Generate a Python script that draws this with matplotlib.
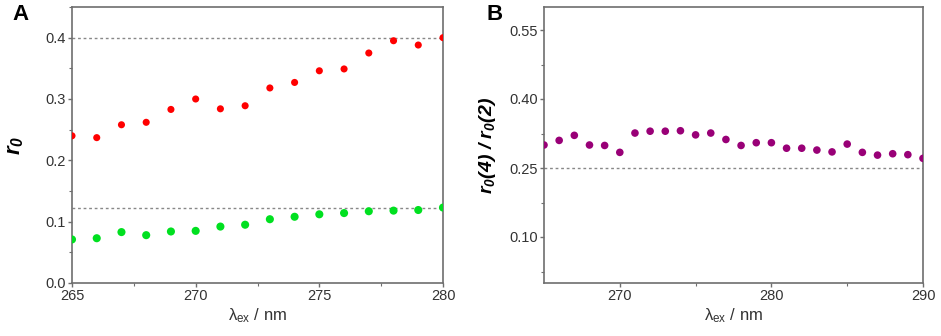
import matplotlib
matplotlib.use("Agg")
import matplotlib.pyplot as plt
from matplotlib.ticker import MultipleLocator, FixedLocator

plt.rcParams['font.family'] = ['Liberation Sans', 'DejaVu Sans']
plt.rcParams['mathtext.fontset'] = 'custom'
plt.rcParams['mathtext.rm'] = 'Liberation Sans'
plt.rcParams['mathtext.it'] = 'Liberation Sans:italic'
plt.rcParams['mathtext.bf'] = 'Liberation Sans:italic:bold'

# Panel A data
wl_a = [265, 266, 267, 268, 269, 270, 271, 272, 273, 274, 275, 276, 277, 278, 279, 280]
r0_red = [0.240, 0.237, 0.258, 0.262, 0.283, 0.300, 0.284, 0.289, 0.318, 0.327,
          0.346, 0.349, 0.375, 0.395, 0.388, 0.400]
r0_green = [0.071, 0.073, 0.083, 0.078, 0.084, 0.085, 0.092, 0.095, 0.104, 0.108,
            0.112, 0.114, 0.117, 0.118, 0.119, 0.123]
ref_lines_a = [0.4, 0.123]

# Panel B data
wl_b = list(range(265, 291))
ratio = [0.300, 0.310, 0.321, 0.300, 0.299, 0.284, 0.326, 0.330, 0.330, 0.331,
         0.322, 0.326, 0.312, 0.299, 0.305, 0.305, 0.293, 0.293, 0.289, 0.285,
         0.302, 0.284, 0.278, 0.281, 0.279, 0.271]
ref_line_b = 0.25

spine_col = '#6e6e6e'
text_col = '#333333'

fig = plt.figure(figsize=(9.41, 3.36), dpi=100)
axA = fig.add_axes([72/941, 1-283/336, (443-72)/941, (283-7)/336])
axB = fig.add_axes([544/941, 1-283/336, (923-544)/941, (283-7)/336])

def style(ax):
    for s in ax.spines.values():
        s.set_color(spine_col)
        s.set_linewidth(1.2)
    ax.tick_params(which='major', direction='out', length=3, width=1, color=spine_col,
                   labelsize=10.5, labelcolor=text_col, pad=1.5)
    ax.tick_params(which='minor', direction='out', length=2, width=0.8, color=spine_col)

# Panel A
for y in ref_lines_a:
    axA.axhline(y, color='#888888', lw=1, ls=(0, (2, 2)), zorder=1)
axA.scatter(wl_a, r0_red, s=26, color='#ff0000', edgecolors='none', zorder=3)
axA.scatter(wl_a, r0_green, s=34, color='#00e020', edgecolors='none', zorder=3)
axA.set_xlim(265, 280)
axA.set_ylim(0, 0.45)
axA.xaxis.set_major_locator(MultipleLocator(5))
axA.xaxis.set_minor_locator(MultipleLocator(2.5))
axA.set_yticks([0.0, 0.1, 0.2, 0.3, 0.4])
axA.set_yticklabels(['0.0', '0.1', '0.2', '0.3', '0.4'])
axA.yaxis.set_minor_locator(MultipleLocator(0.05))
style(axA)
axA.set_xlabel(r'$\mathregular{\lambda_{ex}}$ / nm', fontsize=12, color=text_col, labelpad=2)
axA.set_ylabel(r'$\mathbf{r_0}$', fontsize=16, color='black', labelpad=14)

# Panel B
axB.axhline(ref_line_b, color='#888888', lw=1, ls=(0, (2, 2)), zorder=1)
axB.scatter(wl_b, ratio, s=30, color='#990077', edgecolors='none', zorder=3)
axB.set_xlim(265, 290)
axB.set_ylim(0.0, 0.6)
axB.set_xticks([270, 280, 290])
axB.xaxis.set_minor_locator(FixedLocator([275, 285]))
axB.set_yticks([0.10, 0.25, 0.40, 0.55])
axB.set_yticklabels(['0.10', '0.25', '0.40', '0.55'])
axB.yaxis.set_minor_locator(FixedLocator([0.025, 0.175, 0.325, 0.475]))
style(axB)
axB.set_xlabel(r'$\mathregular{\lambda_{ex}}$ / nm', fontsize=12, color=text_col, labelpad=2)
axB.set_ylabel(r'$\mathbf{r_0(4)\ /\ r_0(2)}$', fontsize=14, color='black', labelpad=8)

fig.text(12/941, 1-15/336, 'A', fontsize=16, fontweight='bold', ha='left', va='center')
fig.text(487/941, 1-15/336, 'B', fontsize=16, fontweight='bold', ha='left', va='center')

fig.savefig('out.png', dpi=100)
